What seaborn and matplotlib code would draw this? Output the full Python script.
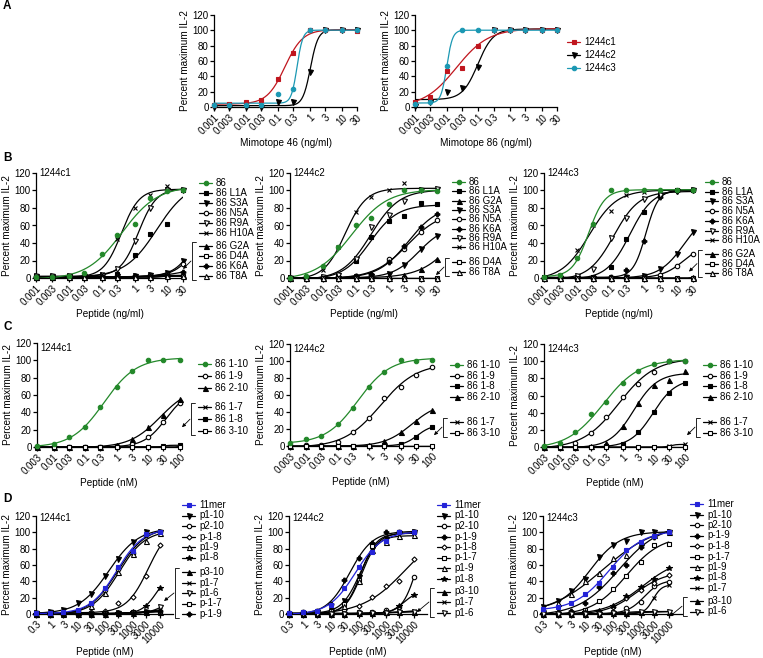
import numpy as np
import matplotlib
matplotlib.use("Agg")
import matplotlib.pyplot as plt
from matplotlib.ticker import NullLocator
import seaborn as sns

# x doses
X_NG = [0.001, 0.003, 0.01, 0.03, 0.1, 0.3, 1, 3, 10, 30]
X_NG_LAB = ["0.001", "0.003", "0.01", "0.03", "0.1", "0.3", "1", "3", "10", "30"]
X_C = [0.003, 0.01, 0.03, 0.1, 0.3, 1, 3, 10, 30, 100]
X_C_LAB = ["0.003", "0.01", "0.03", "0.1", "0.3", "1", "3", "10", "30", "100"]
X_D = [0.3, 1, 3, 10, 30, 100, 300, 1000, 3000, 10000]
X_D_LAB = ["0.3", "1", "3", "10", "30", "100", "300", "1000", "3000", "10000"]

# panel A
A_46 = {
    "1244c1": [3, 4, 6, 9, 36, 70, 100, 100, 100, 99],
    "1244c2": [0, 0, 0, 0, 6, 6, 46, 100, 100, 100],
    "1244c3": [2, 2, 2, 2, 17, 24, 100, 100, 100, 100],
}
A_86 = {
    "1244c1": [7, 13, 47, 51, 80, 100, 100, 100, 100, 100],
    "1244c2": [1, 7, 20, 25, 52, 100, 100, 100, 100, 100],
    "1244c3": [4, 6, 54, 100, 100, 100, 100, 100, 100, 100],
}

# panel B
B_C1 = {
    "86": [1, 1, 2, 6, 28, 49, 62, 91, 99, 100],
    "86 L1A": [2, 2, 2, 2, 3, 5, 26, 50, 62, 100],
    "86 S3A": [1, 1, 1, 1, 2, 2, 2, 3, 6, 19],
    "86 N5A": [1, 1, 1, 1, 1, 2, 2, 3, 5, 16],
    "86 R9A": [2, 2, 2, 2, 4, 10, 42, 80, 100, 100],
    "86 H10A": [2, 2, 2, 3, 5, 44, 80, 95, 105, 101],
    "86 G2A": [1, 1, 1, 1, 1, 1, 2, 2, 3, 3],
    "86 D4A": [1, 1, 1, 1, 1, 1, 1, 1, 2, 2],
    "86 K6A": [1, 1, 1, 1, 1, 1, 2, 2, 4, 7],
    "86 T8A": [1, 1, 1, 1, 1, 1, 1, 1, 2, 2],
}
B_C2 = {
    "86": [0, 2, 14, 36, 61, 68, 84, 101, 100, 99],
    "86 L1A": [0, 0, 1, 3, 19, 47, 65, 71, 86, 84],
    "86 G2A": [0, 0, 0, 0, 0, 1, 2, 4, 10, 22],
    "86 S3A": [0, 0, 0, 0, 1, 2, 5, 15, 33, 48],
    "86 N5A": [0, 0, 0, 1, 2, 4, 22, 33, 52, 66],
    "86 K6A": [0, 0, 0, 1, 2, 5, 18, 37, 58, 73],
    "86 R9A": [0, 0, 1, 4, 22, 58, 72, 88, 100, 102],
    "86 H10A": [0, 1, 9, 35, 75, 93, 100, 108, 100, 101],
    "86 D4A": [0, 0, 0, 0, 0, 0, 0, 0, 0, 0],
    "86 T8A": [0, 0, 0, 0, 0, 0, 0, 0, 0, 0],
}
B_C3 = {
    "86": [1, 4, 23, 62, 100, 100, 100, 100, 100, 100],
    "86 L1A": [0, 0, 0, 1, 13, 45, 75, 95, 100, 100],
    "86 S3A": [0, 0, 0, 0, 0, 1, 2, 10, 28, 52],
    "86 N5A": [0, 0, 0, 0, 0, 0, 1, 4, 14, 28],
    "86 K6A": [0, 0, 0, 0, 1, 9, 42, 93, 99, 100],
    "86 R9A": [0, 0, 2, 10, 46, 69, 90, 95, 99, 100],
    "86 H10A": [1, 4, 32, 60, 77, 95, 98, 99, 100, 100],
    "86 G2A": [0, 0, 0, 0, 0, 0, 0, 0, 0, 1],
    "86 D4A": [0, 0, 0, 0, 0, 0, 0, 0, 0, 0],
    "86 T8A": [0, 0, 0, 0, 0, 0, 0, 0, 0, 0],
}

# panel C
C_C1 = {
    "86 1-10": [1, 4, 11, 23, 46, 69, 88, 100, 100, 100],
    "86 1-9": [0, 0, 0, 0, 0, 1, 3, 11, 29, 51],
    "86 2-10": [0, 0, 0, 0, 0, 2, 9, 23, 37, 55],
    "86 1-7": [0, 0, 0, 0, 0, 0, 0, 0, 0, 1],
    "86 1-8": [0, 0, 0, 0, 0, 0, 0, 0, 1, 2],
    "86 3-10": [0, 0, 0, 0, 0, 0, 0, 0, 0, 0],
}
C_C2 = {
    "86 1-10": [3, 8, 12, 26, 45, 69, 87, 101, 100, 101],
    "86 1-9": [0, 1, 1, 5, 16, 33, 56, 70, 84, 93],
    "86 1-8": [0, 0, 0, 0, 0, 0, 1, 2, 11, 22],
    "86 2-10": [0, 0, 0, 0, 0, 1, 6, 16, 29, 42],
    "86 1-7": [0, 0, 0, 0, 0, 0, 0, 0, 0, 0],
    "86 3-10": [0, 0, 0, 0, 0, 0, 0, 0, 0, 0],
}
C_C3 = {
    "86 1-10": [1, 5, 17, 38, 52, 74, 89, 97, 100, 100],
    "86 1-9": [0, 1, 5, 16, 35, 58, 73, 87, 100, 100],
    "86 1-8": [0, 0, 0, 0, 1, 3, 17, 41, 63, 75],
    "86 2-10": [0, 0, 0, 1, 5, 24, 51, 72, 78, 89],
    "86 1-7": [0, 0, 0, 0, 0, 0, 0, 0, 1, 3],
    "86 3-10": [0, 0, 0, 0, 0, 0, 0, 0, 0, 0],
}

# panel D
D_C1 = {
    "11mer": [1, 1, 2, 5, 13, 32, 57, 77, 98, 100],
    "p1-10": [1, 2, 5, 13, 25, 46, 67, 88, 100, 100],
    "p2-10": [0, 0, 1, 4, 12, 30, 55, 75, 97, 100],
    "p-1-8": [0, 0, 1, 1, 2, 4, 13, 21, 47, 84],
    "p1-9": [0, 0, 1, 3, 10, 26, 52, 74, 90, 99],
    "p1-8": [0, 0, 0, 0, 0, 1, 1, 2, 10, 32],
    "p3-10": [0, 0, 0, 0, 0, 0, 1, 1, 2, 3],
    "p1-7": [0, 0, 0, 0, 0, 1, 1, 2, 3, 5],
    "p1-6": [0, 0, 0, 0, 0, 0, 1, 1, 2, 8],
    "p-1-7": [0, 0, 0, 0, 0, 1, 1, 2, 2, 3],
    "p-1-9": [0, 0, 0, 0, 0, 0, 1, 1, 2, 4],
}
D_C2 = {
    "11mer": [1, 2, 4, 11, 32, 58, 76, 90, 100, 100],
    "p1-10": [0, 1, 2, 5, 16, 45, 80, 92, 99, 100],
    "p2-10": [0, 0, 0, 0, 1, 2, 2, 5, 9, 45],
    "p-1-9": [1, 2, 4, 12, 42, 68, 87, 100, 100, 100],
    "p-1-8": [0, 0, 1, 2, 5, 10, 21, 34, 40, 67],
    "p-1-7": [0, 0, 1, 4, 12, 42, 83, 90, 100, 100],
    "p1-9": [0, 0, 1, 3, 10, 40, 78, 88, 96, 97],
    "p1-8": [0, 0, 0, 0, 0, 0, 1, 2, 10, 23],
    "p3-10": [0, 0, 0, 0, 0, 1, 1, 2, 2, 3],
    "p1-7": [0, 0, 0, 0, 0, 1, 1, 2, 2, 4],
    "p1-6": [0, 0, 0, 0, 0, 1, 1, 1, 2, 3],
}
D_C3 = {
    "11mer": [6, 8, 14, 25, 38, 58, 78, 88, 96, 100],
    "p1-10": [8, 16, 28, 43, 70, 84, 90, 100, 100, 100],
    "p2-10": [0, 0, 0, 0, 1, 2, 7, 15, 34, 39],
    "p-1-9": [1, 2, 4, 14, 33, 50, 60, 82, 94, 100],
    "p-1-8": [0, 0, 0, 1, 2, 8, 20, 30, 38, 48],
    "p-1-7": [0, 0, 1, 5, 16, 31, 46, 64, 84, 86],
    "p1-9": [7, 14, 25, 40, 50, 68, 72, 88, 97, 101],
    "p1-8": [0, 0, 1, 2, 4, 10, 22, 33, 43, 56],
    "p1-7": [0, 0, 0, 0, 0, 0, 1, 2, 20, 35],
    "p3-10": [0, 0, 0, 0, 0, 1, 1, 2, 2, 3],
    "p1-6": [0, 0, 0, 0, 0, 1, 2, 3, 3, 3],
}

RED, CYAN, GREEN, BLUE = "#c0161e", "#1b98b3", "#23882a", "#2424d8"
A_COLORS = {"1244c1": RED, "1244c2": "black", "1244c3": CYAN}

# marker, filled
MARKERS = {
    "1244c1": ("s", True), "1244c2": ("v", True), "1244c3": ("o", True),
    "86": ("o", True), "86 L1A": ("s", True), "86 G2A": ("^", True),
    "86 S3A": ("v", True), "86 N5A": ("o", False), "86 K6A": ("P", True),
    "86 R9A": ("v", False), "86 H10A": ("x", True), "86 D4A": ("s", False),
    "86 T8A": ("^", False),
    "86 1-10": ("o", True), "86 1-9": ("o", False), "86 2-10": ("^", True),
    "86 1-7": ("x", True), "86 1-8": ("s", True), "86 3-10": ("s", False),
    "11mer": ("s", True), "p1-10": ("v", True), "p2-10": ("o", False),
    "p-1-8": ("D", False), "p1-9": ("^", False), "p1-8": ("*", True),
    "p3-10": ("^", True), "p1-7": ("x", True), "p1-6": ("v", False),
    "p-1-7": ("s", False), "p-1-9": ("P", True),
}
MSIZE = {"s": 3.0, "o": 3.2, "v": 3.6, "^": 3.6, "x": 3.4, "P": 3.4, "D": 2.6, "*": 4.4}

W, H = 763, 658
sns.set_theme(style="ticks")
plt.rcParams["font.family"] = ["Liberation Sans", "DejaVu Sans"]
plt.rcParams.update({
    "font.size": 7.0, "axes.labelsize": 7.2, "xtick.labelsize": 7.0,
    "ytick.labelsize": 7.0, "axes.linewidth": 0.9, "axes.edgecolor": "black",
    "xtick.color": "black", "ytick.color": "black", "text.color": "black",
    "axes.labelcolor": "black",
})

fig = plt.figure(figsize=(W / 100, H / 100), dpi=100)


def add_ax(x0, x1, ytop, ybot):
    return fig.add_axes([x0 / W, 1 - ybot / H, (x1 - x0) / W, (ybot - ytop) / H])


def fit_hill(x, y):
    """Simple 4-parameter logistic fit by grid search."""
    lx = np.log10(np.asarray(x, float))
    y = np.asarray(y, float)
    ecs = np.arange(lx.min() - 1.0, lx.max() + 1.5, 0.02)
    hills = np.arange(0.3, 6.01, 0.05)
    E, Hh = np.meshgrid(ecs, hills, indexing="ij")
    s = 1.0 / (1.0 + 10 ** ((E[..., None] - lx) * Hh[..., None]))
    sm = s.mean(-1)
    ym = y.mean()
    var = ((s - sm[..., None]) ** 2).sum(-1)
    cov = ((s - sm[..., None]) * (y - ym)).sum(-1)
    span = cov / np.maximum(var, 1e-9)
    bottom = np.clip(ym - span * sm, -2, 12)
    top = np.clip(bottom + span, 0, 110)
    pred = bottom[..., None] + (top - bottom)[..., None] * s
    sse = ((pred - y) ** 2).sum(-1)
    i, j = np.unravel_index(np.argmin(sse), sse.shape)
    return ecs[i], hills[j], bottom[i, j], top[i, j]


def marker_kw(label, color):
    m, filled = MARKERS[label]
    return dict(marker=m, ms=MSIZE[m], mec=color, mew=0.8,
                mfc=color if filled else "white")


def draw_panel(box, series, x, xlab, xlabel, xmax, colors, name=None, name_y=1.0):
    ax = add_ax(*box)
    ax.set_xscale("log")
    xx = np.array(x, float)
    grid = np.logspace(np.log10(xx.min()), np.log10(xx.max()), 200)
    labels = sorted(series, key=lambda k: colors.get(k, "black") != "black")
    for lab in labels:
        y = np.array(series[lab], float)
        ec, h, b, t = fit_hill(xx, y)
        curve = b + (t - b) / (1 + 10 ** ((ec - np.log10(grid)) * h))
        c = colors.get(lab, "black")
        z = 3 if c != "black" else 2
        sns.lineplot(x=grid, y=curve, ax=ax, color=c, lw=0.9, zorder=z)
        ax.plot(xx, y, ls="none", clip_on=False, zorder=z + 2, **marker_kw(lab, c))
    ax.set_xlim(xx.min(), xmax)
    ax.set_ylim(0, 120)
    ax.set_yticks(range(0, 121, 20))
    ax.set_xticks(x)
    ax.set_xticklabels(xlab, rotation=45, ha="right", va="top", rotation_mode="anchor")
    ax.xaxis.set_minor_locator(NullLocator())
    ax.tick_params(direction="out", length=2.6, width=0.9, pad=1.2)
    ax.set_xlabel(xlabel, labelpad=1)
    ax.set_ylabel("Percent maximum IL-2", labelpad=2)
    sns.despine(ax=ax)
    if name:
        ax.text(0.025, name_y, name, transform=ax.transAxes, va="top", ha="left")
    return ax


def draw_legend(ov, series, colors, x, y0, dy, n_main=None, gap=0, arrow=(8, 8)):
    rows = []
    for i, lab in enumerate(series):
        y = y0 + i * dy + (gap if n_main is not None and i >= n_main else 0)
        rows.append(y)
        c = colors.get(lab, "black")
        ov.plot([x, x + 13], [y, y], color=c, lw=0.9)
        ov.plot([x + 6.5], [y], **marker_kw(lab, c))
        ov.text(x + 17, y, lab, va="center", ha="left")
    if n_main is not None and n_main < len(rows):
        bx = x - 7
        ya, yb = rows[n_main] - 4, rows[-1] + 4
        ov.plot([bx + 4, bx, bx, bx + 4], [ya, ya, yb, yb], color="black", lw=0.6)
        mid = (ya + yb) / 2
        ov.annotate("", xy=(bx - 1 - arrow[0], mid + arrow[1]), xytext=(bx - 1, mid),
                    arrowprops=dict(arrowstyle="-|>", color="black", lw=0.6,
                                    mutation_scale=5, shrinkA=0, shrinkB=0))


green = lambda d: {k: (GREEN if k in ("86", "86 1-10") else "black") for k in d}
blue = lambda d: {k: (BLUE if k == "11mer" else "black") for k in d}

# A
draw_panel((214, 357, 15, 107), A_46, X_NG, X_NG_LAB, "Mimotope 46 (ng/ml)", 30, A_COLORS)
draw_panel((415, 557, 15, 107), A_86, X_NG, X_NG_LAB, "Mimotope 86 (ng/ml)", 30, A_COLORS)

B_BOX = [(36, 183, 173, 278), (290, 437, 173, 278), (544, 693, 173, 278)]
C_BOX = [(37, 180, 343, 447), (290, 432, 344, 446), (544, 685, 344, 447)]
D_BOX = [(36, 173, 516, 614), (289, 427, 516, 614), (543, 682, 516, 614)]
NAMES = ["1244c1", "1244c2", "1244c3"]

for box, d, nm in zip(B_BOX, [B_C1, B_C2, B_C3], NAMES):
    draw_panel(box, d, X_NG, X_NG_LAB, "Peptide (ng/ml)", 30, green(d), nm, 1.05)
for box, d, nm in zip(C_BOX, [C_C1, C_C2, C_C3], NAMES):
    draw_panel(box, d, X_C, X_C_LAB, "Peptide (nM)", 100, green(d), nm, 1.0)
for box, d, nm in zip(D_BOX, [D_C1, D_C2, D_C3], NAMES):
    draw_panel(box, d, X_D, X_D_LAB, "Peptide (nM)", 30000, blue(d), nm, 1.03)

# overlay for legends, brackets and panel letters (pixel coordinates)
ov = fig.add_axes([0, 0, 1, 1], zorder=10)
ov.set_xlim(0, W)
ov.set_ylim(H, 0)
ov.axis("off")

draw_legend(ov, A_86, A_COLORS, 567, 42, 13)
draw_legend(ov, B_C1, green(B_C1), 199, 183, 10, 6, 3)
draw_legend(ov, B_C2, green(B_C2), 452, 182, 9.3, 8, 6)
draw_legend(ov, B_C3, green(B_C3), 705, 182, 9.7, 7, 4)
draw_legend(ov, C_C1, green(C_C1), 198, 364, 11.8, 3, 8)
draw_legend(ov, C_C2, green(C_C2), 450, 365, 10.7, 4, 14)
draw_legend(ov, C_C3, green(C_C3), 703, 365, 10.7, 4, 14)
draw_legend(ov, D_C1, blue(D_C1), 182, 505, 10.5, 6, 4, (10, 8))
draw_legend(ov, D_C2, blue(D_C2), 437, 505, 10.5, 8, 2.5, (12, 10))
draw_legend(ov, D_C3, blue(D_C3), 690, 504, 10.5, 9, 2.5, (12, 10))

for letter, y in [("A", 6), ("B", 158), ("C", 327), ("D", 499)]:
    ov.text(3, y, letter, fontsize=8.5, fontweight="bold", va="center", ha="left")

fig.savefig("out.png", dpi=100)
